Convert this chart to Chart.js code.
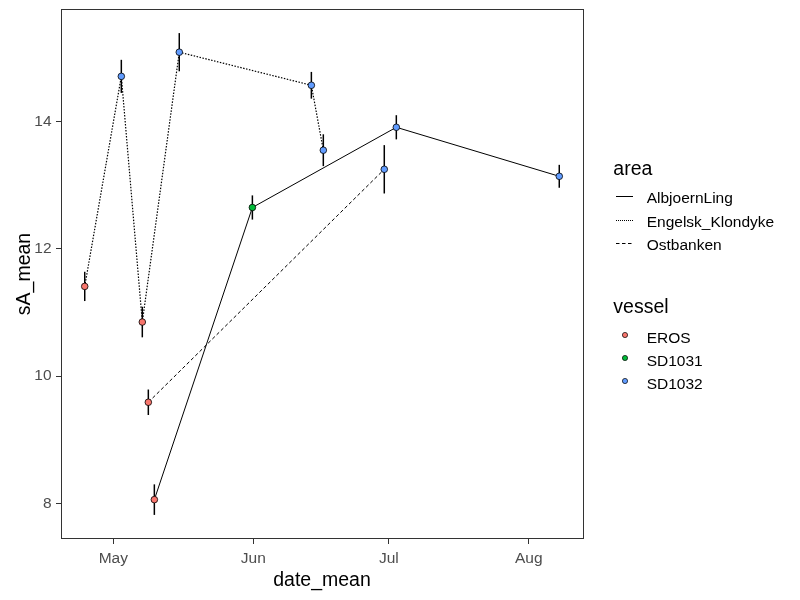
<!DOCTYPE html>
<html><head><meta charset="utf-8">
<script src="https://cdn.jsdelivr.net/npm/chart.js@4"></script>
<style>
html,body{margin:0;padding:0;background:#fff;}
#wrap{position:relative;width:800px;height:600px;overflow:hidden;}
#c{position:absolute;left:0;top:0;}
.lg{position:absolute;font-family:"Liberation Sans",Arial,sans-serif;line-height:1;white-space:nowrap;color:#000;}
.lt{font-size:19.5px;}
.li{font-size:15.5px;}
svg.k{position:absolute;overflow:visible;}
</style></head><body>
<div id="wrap"><canvas id="c"></canvas><div id="legend"></div></div>
<script>
// ---- data ----
const dateMean = ["2021-04-24T16:00","2021-05-02T18:30","2021-05-07T10:00","2021-05-08T18:00","2021-05-10T02:00","2021-05-15T14:30","2021-05-31T19:00","2021-06-13T20:30","2021-06-16T12:00","2021-06-30T00:00","2021-07-02T16:00","2021-08-07T18:00"];
const sAMean  = [11.41,14.71,10.85,9.59,8.06,15.09,12.65,14.57,13.55,13.25,13.91,13.14];
const sAErr   = [0.23,0.26,0.24,0.20,0.24,0.30,0.19,0.21,0.25,0.38,0.19,0.18];
const vessel  = ["EROS","SD1032","EROS","EROS","EROS","SD1032","SD1031","SD1032","SD1032","SD1032","SD1032","SD1032"];
const area    = ["Engelsk_Klondyke","Engelsk_Klondyke","Engelsk_Klondyke","Ostbanken","AlbjoernLing","Engelsk_Klondyke","AlbjoernLing","Engelsk_Klondyke","Engelsk_Klondyke","Ostbanken","AlbjoernLing","AlbjoernLing"];
const areaLevels   = ["AlbjoernLing","Engelsk_Klondyke","Ostbanken"];
const vesselLevels = ["EROS","SD1031","SD1032"];
const xTickDates  = ["2021-05-01","2021-06-01","2021-07-01","2021-08-01"];
const xTickLabels = ["May","Jun","Jul","Aug"];
const yTicks = [8,10,12,14];

// ---- styles ----
const vesselColors = {EROS:"#F8766D",SD1031:"#00BA38",SD1032:"#619CFF"};
const areaDash = {AlbjoernLing:[],Engelsk_Klondyke:[1.5,1.5],Ostbanken:[3.5,2.5]};
const legendDash = {AlbjoernLing:"",Engelsk_Klondyke:"1 1",Ostbanken:"3.5 2.5"};
const FONT = '"Liberation Sans", Arial, sans-serif';

const toDay = s => Date.parse(s + (s.length===10?"T00:00":"") + "Z")/86400000;
const xs = dateMean.map(toDay);

// ggplot-like 5% expansion
const xMinD = Math.min(...xs), xMaxD = Math.max(...xs);
const xPad = (xMaxD-xMinD)*0.05;
const yLo = Math.min(...sAMean.map((v,i)=>v-sAErr[i])), yHi = Math.max(...sAMean.map((v,i)=>v+sAErr[i]));
const yPad = (yHi-yLo)*0.05;

const datasets = [];
vesselLevels.forEach(v=>{
  const pts = [];
  xs.forEach((x,i)=>{ if(vessel[i]===v) pts.push({x:x,y:sAMean[i]}); });
  datasets.push({label:v,data:pts,showLine:false,pointRadius:3.3,pointHoverRadius:3.3,
    pointBackgroundColor:vesselColors[v],pointBorderColor:"#000",pointBorderWidth:0.8});
});
areaLevels.forEach(a=>{
  const pts = [];
  xs.forEach((x,i)=>{ if(area[i]===a) pts.push({x:x,y:sAMean[i]}); });
  pts.sort((p,q)=>p.x-q.x);
  datasets.push({label:a,data:pts,showLine:true,pointRadius:0,borderColor:"#000",
    borderWidth:a==="Engelsk_Klondyke"?1.2:1,
    borderDash:areaDash[a],tension:0,fill:false});
});

const errorBars = {
  id:'errorBars',
  beforeDatasetsDraw(chart){
    const {ctx, scales:{x,y}} = chart;
    ctx.save(); ctx.strokeStyle='#000'; ctx.lineWidth=1.5;
    xs.forEach((xv,i)=>{
      const px = x.getPixelForValue(xv);
      ctx.beginPath();
      ctx.moveTo(px, y.getPixelForValue(sAMean[i]-sAErr[i]));
      ctx.lineTo(px, y.getPixelForValue(sAMean[i]+sAErr[i]));
      ctx.stroke();
    });
    ctx.restore();
  }
};
const panelBorder = {
  id:'panelBorder',
  afterDraw(chart){
    const {ctx, chartArea:a} = chart;
    ctx.save(); ctx.strokeStyle='#333333'; ctx.lineWidth=1;
    ctx.strokeRect(Math.round(a.left)+0.5, Math.round(a.top)+0.5, Math.round(a.right-a.left), Math.round(a.bottom-a.top)-1);
    ctx.restore();
  }
};

new Chart(document.getElementById('c'), {
  type:'scatter',
  data:{datasets:datasets},
  plugins:[errorBars,panelBorder],
  options:{
    responsive:true, maintainAspectRatio:false, animation:false,
    layout:{padding:{top:9,right:217,bottom:0,left:0}},
    plugins:{legend:{display:false},tooltip:{enabled:false}},
    scales:{
      x:{type:'linear',min:xMinD-xPad,max:xMaxD+xPad,
        afterFit(s){s.height=61; s.paddingLeft=0; s.paddingRight=0;},
        afterBuildTicks(s){s.ticks = xTickDates.map(d=>({value:toDay(d)}));},
        ticks:{callback:(v,i)=>xTickLabels[i],color:'#4D4D4D',font:{family:FONT,size:15.5},padding:5,maxRotation:0,autoSkip:false},
        grid:{drawOnChartArea:false,drawTicks:true,tickLength:5,tickColor:'#333333',tickWidth:1},
        border:{display:false},
        title:{display:true,text:'date_mean',color:'#000',font:{family:FONT,size:19.5},padding:{top:0,bottom:8}}
      },
      y:{type:'linear',min:yLo-yPad,max:yHi+yPad,
        afterFit(s){s.width=61; s.paddingTop=0; s.paddingBottom=0;},
        afterBuildTicks(s){s.ticks = yTicks.map(v=>({value:v}));},
        ticks:{callback:v=>String(v),color:'#4D4D4D',font:{family:FONT,size:15.5},padding:4.5,autoSkip:false},
        grid:{drawOnChartArea:false,drawTicks:true,tickLength:5,tickColor:'#333333',tickWidth:1},
        border:{display:false},
        title:{display:true,text:'sA_mean',color:'#000',font:{family:FONT,size:19.5},padding:{top:12.9,bottom:0}}
      }
    }
  }
});

// ---- legend (ggplot style) ----
const lg = document.getElementById('legend');
const SVGNS = "http://www.w3.org/2000/svg";
function addText(txt, cls, left, top){
  const d = document.createElement('div'); d.className='lg '+cls; d.textContent=txt;
  d.style.left=left+'px'; d.style.top=top+'px'; lg.appendChild(d);
}
addText('area','lt',613.3,158.5);
areaLevels.forEach((a,i)=>{
  const top = 190.4 + i*23.3;
  const svg = document.createElementNS(SVGNS,'svg'); svg.setAttribute('class','k');
  svg.setAttribute('width','18'); svg.setAttribute('height','5');
  svg.style.left='616px'; svg.style.top=(Math.floor(top+6.3)-2)+'px';
  const ln = document.createElementNS(SVGNS,'line');
  ln.setAttribute('x1','0'); ln.setAttribute('x2','17'); ln.setAttribute('y1','2.5'); ln.setAttribute('y2','2.5');
  ln.setAttribute('stroke','#000'); ln.setAttribute('stroke-width','1');
  if(legendDash[a]) ln.setAttribute('stroke-dasharray',legendDash[a]);
  svg.appendChild(ln); lg.appendChild(svg);
  addText(a,'li',646.7,top);
});
addText('vessel','lt',613.3,296.8);
vesselLevels.forEach((v,i)=>{
  const top = 329.6 + i*23.2;
  const svg = document.createElementNS(SVGNS,'svg'); svg.setAttribute('class','k');
  svg.setAttribute('width','8'); svg.setAttribute('height','8');
  svg.style.left=(625-4)+'px'; svg.style.top=(top+5.4-4)+'px';
  const c = document.createElementNS(SVGNS,'circle');
  c.setAttribute('cx','4'); c.setAttribute('cy','4'); c.setAttribute('r','2.6');
  c.setAttribute('fill',vesselColors[v]); c.setAttribute('stroke','#000'); c.setAttribute('stroke-width','0.7');
  svg.appendChild(c); lg.appendChild(svg);
  addText(v,'li',646.7,top);
});
</script>
</body></html>
